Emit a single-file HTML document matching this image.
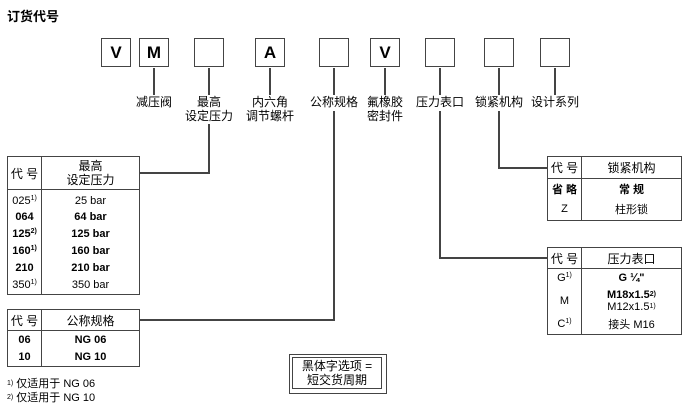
<!DOCTYPE html>
<html><head><meta charset="utf-8"><style>
body{margin:0;width:684px;height:407px;background:#fff;position:relative;overflow:hidden;font-family:"Liberation Sans","Noto Sans CJK SC",sans-serif;color:#000}
.a{position:absolute}
.box{position:absolute;width:28px;height:27px;border:1.5px solid #444;font:bold 17px "Liberation Sans",sans-serif;text-align:center;line-height:27px}
.l{position:absolute;background:#444}
.lbl{position:absolute;font-size:12px;line-height:14px;text-align:center;white-space:nowrap}
table{position:absolute;border-collapse:collapse;font-size:11px}
td{border:1.5px solid #444;text-align:center;padding:0}
.in td{border-top:none;border-bottom:none}
.s{font-size:7px;vertical-align:top}
</style></head><body>
<div class="a" style="left:7px;top:6px;font-size:13px;font-weight:bold">订货代号</div>
<div class="box" style="left:101px;top:38px">V</div>
<div class="box" style="left:139px;top:38px">M</div>
<div class="box" style="left:194px;top:38px"></div>
<div class="box" style="left:255px;top:38px">A</div>
<div class="box" style="left:319px;top:38px"></div>
<div class="box" style="left:370px;top:38px">V</div>
<div class="box" style="left:425px;top:38px"></div>
<div class="box" style="left:484px;top:38px"></div>
<div class="box" style="left:540px;top:38px"></div>
<div class="l" style="left:153px;top:68px;width:1.5px;height:27px"></div>
<div class="l" style="left:208px;top:68px;width:1.5px;height:27px"></div>
<div class="l" style="left:269px;top:68px;width:1.5px;height:27px"></div>
<div class="l" style="left:333px;top:68px;width:1.5px;height:27px"></div>
<div class="l" style="left:384px;top:68px;width:1.5px;height:27px"></div>
<div class="l" style="left:439px;top:68px;width:1.5px;height:27px"></div>
<div class="l" style="left:498px;top:68px;width:1.5px;height:27px"></div>
<div class="l" style="left:554px;top:68px;width:1.5px;height:27px"></div>
<div class="lbl" style="left:134px;top:95px;width:40px">减压阀</div>
<div class="lbl" style="left:184px;top:95px;width:50px">最高<br>设定压力</div>
<div class="lbl" style="left:245px;top:95px;width:50px">内六角<br>调节螺杆</div>
<div class="lbl" style="left:309px;top:95px;width:50px">公称规格</div>
<div class="lbl" style="left:360px;top:95px;width:50px">氟橡胶<br>密封件</div>
<div class="lbl" style="left:415px;top:95px;width:50px">压力表口</div>
<div class="lbl" style="left:474px;top:95px;width:50px">锁紧机构</div>
<div class="lbl" style="left:530px;top:95px;width:50px">设计系列</div>
<div class="l" style="left:208px;top:124px;width:1.5px;height:50px"></div>
<div class="l" style="left:139px;top:172px;width:71px;height:1.5px"></div>
<div class="l" style="left:333px;top:111px;width:1.5px;height:210px"></div>
<div class="l" style="left:139px;top:319px;width:196px;height:1.5px"></div>
<div class="l" style="left:439px;top:111px;width:1.5px;height:148px"></div>
<div class="l" style="left:439px;top:257px;width:108px;height:1.5px"></div>
<div class="l" style="left:498px;top:111px;width:1.5px;height:58px"></div>
<div class="l" style="left:498px;top:167px;width:49px;height:1.5px"></div>
<table style="left:7px;top:156px;width:133px">
<tr style="height:33px"><td style="width:33px;font-size:12px">代 号</td><td style="font-size:12px;line-height:14px">最高<br>设定压力</td></tr>
<tr class="in" style="height:19px"><td style="padding-top:3px">025<span class="s">1)</span></td><td style="padding-top:3px">25 bar</td></tr>
<tr class="in" style="height:17px;font-weight:bold"><td>064</td><td>64 bar</td></tr>
<tr class="in" style="height:17px;font-weight:bold"><td>125<span class="s">2)</span></td><td>125 bar</td></tr>
<tr class="in" style="height:17px;font-weight:bold"><td>160<span class="s">1)</span></td><td>160 bar</td></tr>
<tr class="in" style="height:17px;font-weight:bold"><td>210</td><td>210 bar</td></tr>
<tr class="in" style="height:18px"><td style="border-bottom:1.5px solid #444">350<span class="s">1)</span></td><td style="border-bottom:1.5px solid #444">350 bar</td></tr>
</table>
<table style="left:7px;top:309px;width:133px">
<tr style="height:21px"><td style="width:33px;font-size:12px">代 号</td><td style="font-size:12px">公称规格</td></tr>
<tr class="in" style="height:18px;font-weight:bold"><td>06</td><td>NG 06</td></tr>
<tr class="in" style="height:18px;font-weight:bold"><td style="border-bottom:1.5px solid #444">10</td><td style="border-bottom:1.5px solid #444">NG 10</td></tr>
</table>
<div class="a" style="left:7px;top:377px;font-size:11px;line-height:14px"><span class="s">1)</span> 仅适用于 NG 06<br><span class="s">2)</span> 仅适用于 NG 10</div>
<table style="left:547px;top:156px;width:135px">
<tr style="height:22px"><td style="width:33px;font-size:12px">代 号</td><td style="font-size:12px">锁紧机构</td></tr>
<tr class="in" style="height:20px;font-weight:bold"><td>省 略</td><td>常 规</td></tr>
<tr class="in" style="height:22px"><td style="border-bottom:1.5px solid #444">Z</td><td style="border-bottom:1.5px solid #444">柱形锁</td></tr>
</table>
<table style="left:547px;top:247px;width:135px">
<tr style="height:21px"><td style="width:33px;font-size:12px">代 号</td><td style="font-size:12px">压力表口</td></tr>
<tr class="in" style="height:18px;font-weight:bold"><td style="font-weight:normal">G<span class="s">1)</span></td><td>G ¼"</td></tr>
<tr class="in" style="height:28px"><td>M</td><td style="line-height:12px"><b>M18x1.5<span class="s">2)</span></b><br>M12x1.5<span class="s">1)</span></td></tr>
<tr class="in" style="height:20px"><td style="border-bottom:1.5px solid #444">C<span class="s">1)</span></td><td style="border-bottom:1.5px solid #444">接头 M16</td></tr>
</table>
<div class="a" style="left:289px;top:354px;width:96px;height:38px;border:1.5px solid #444"></div>
<div class="a" style="left:292px;top:357px;width:90px;height:32px;border:1.5px solid #444;font-size:12px;line-height:14px;text-align:center;padding-top:1px;box-sizing:border-box">黑体字选项 =<br>短交货周期</div>
</body></html>
